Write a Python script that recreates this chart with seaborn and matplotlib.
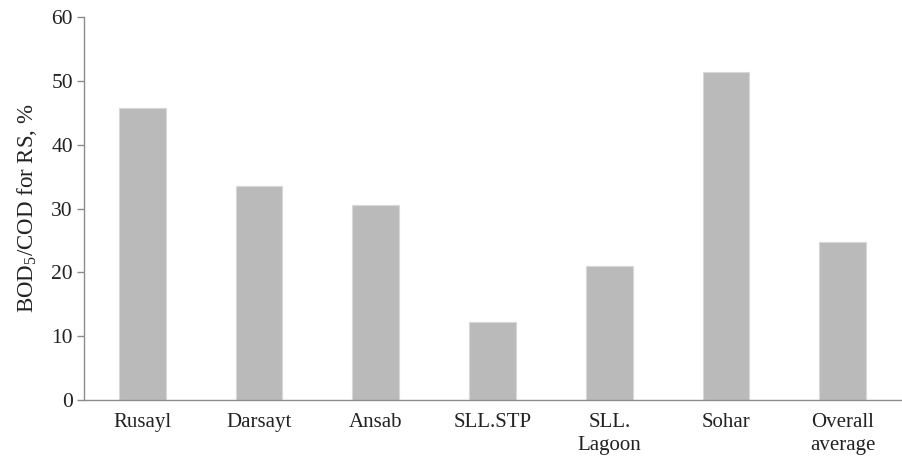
import matplotlib
matplotlib.use("Agg")
import matplotlib.pyplot as plt
import seaborn as sns
import pandas as pd

# Data
sites = ["Rusayl", "Darsayt", "Ansab", "SLL.STP", "SLL.\nLagoon", "Sohar", "Overall\naverage"]
ratio = [45.7, 33.5, 30.5, 12.2, 21.0, 51.4, 24.7]
y_ticks = [0, 10, 20, 30, 40, 50, 60]

df = pd.DataFrame({"site": sites, "ratio": ratio})

sns.set_theme(style="white")
plt.rcParams["font.family"] = ["Liberation Serif", "DejaVu Serif"]
plt.rcParams["mathtext.fontset"] = "custom"
plt.rcParams["mathtext.rm"] = "Liberation Serif"
plt.rcParams["mathtext.it"] = "Liberation Serif:italic"

fig = plt.figure(figsize=(9.03, 4.58), dpi=100)
ax = fig.add_axes([0.093, 0.1266, 0.905, 0.8363])

sns.barplot(ax=ax, data=df, x="site", y="ratio", color="#bababa",
            width=0.4, edgecolor="#d8d8d8", linewidth=0.8, saturation=1)

ax.set_ylim(0, 60)
ax.set_xlim(-0.5, len(sites) - 0.5)
ax.set_yticks(y_ticks)
ax.set_xlabel("")
ax.set_ylabel(r"BOD$_5$/COD for RS, $\mathit{\%}$", fontsize=16.5, color="#222222", labelpad=9)

sns.despine(ax=ax)
for side in ["left", "bottom"]:
    ax.spines[side].set_color("#8c8c8c")
    ax.spines[side].set_linewidth(1.0)

ax.tick_params(axis="y", which="major", left=True, length=5, width=1.0,
               color="#8c8c8c", labelsize=15.5, labelcolor="#222222", pad=3)
ax.tick_params(axis="x", bottom=False, labelsize=15, labelcolor="#222222", pad=3)
for lbl in ax.get_xticklabels():
    lbl.set_linespacing(1.35)

fig.savefig("out.png", dpi=100)
